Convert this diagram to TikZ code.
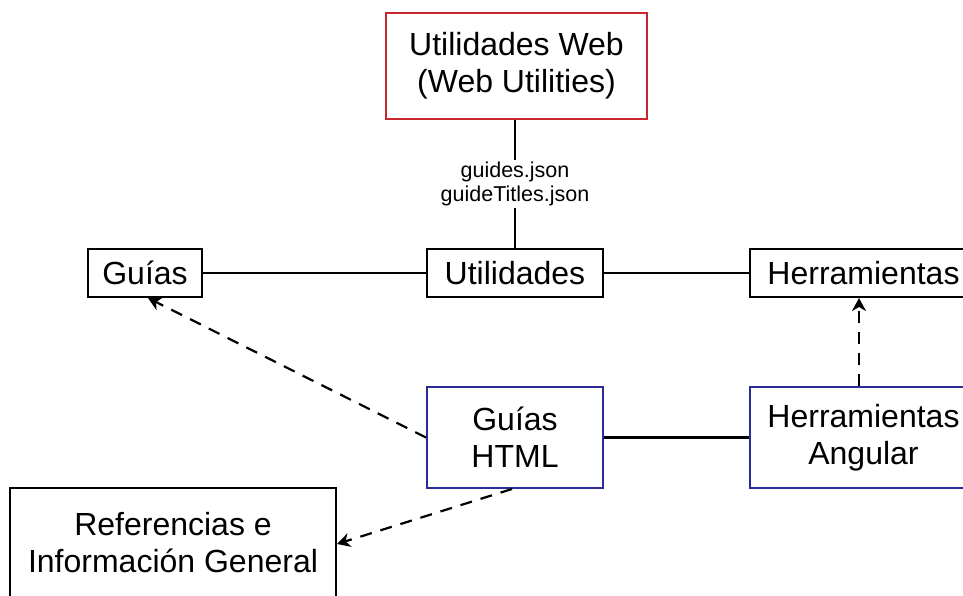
\documentclass[tikz,border=0pt]{standalone}
\usepackage{fontspec}
\setmainfont{Liberation Sans}
\usetikzlibrary{arrows.meta}
\definecolor{webred}{RGB}{200,38,46}
\definecolor{htmlblue}{RGB}{44,44,150}
\begin{document}
\begin{tikzpicture}[x=1pt,y=-1pt,
  box/.style={draw, line width=2pt, rectangle, inner sep=0pt, align=center,
              font=\fontsize{32}{37}\selectfont},
  link/.style={line width=2.2pt},
  dep/.style={line width=2.2pt, dash pattern=on 12pt off 9pt,
              -{Stealth[length=13pt,width=14pt,inset=4pt]}},
  lbl/.style={fill=white, inner sep=2pt, align=center,
              font=\fontsize{21.5}{24}\selectfont}]
\useasboundingbox (0,0) rectangle (963,596);
\clip (0,0) rectangle (963,596);

\node[box, draw=webred, minimum width=261pt, minimum height=106pt] (web) at (516.5,66) {Utilidades Web\\(Web Utilities)};
\node[box, minimum width=114pt, minimum height=48pt] (gu) at (145,273) {Guías};
\node[box, minimum width=176pt, minimum height=48pt] (ut) at (515,273) {Utilidades};
\node[box, minimum width=227pt, minimum height=48pt] (he) at (863.5,273) {Herramientas};
\node[box, draw=htmlblue, minimum width=176pt, minimum height=101pt] (gh) at (515,437.5) {Guías\\HTML};
\node[box, draw=htmlblue, minimum width=227pt, minimum height=101pt] (ha) at (863.5,437.5) {Herramientas\\Angular};
\node[box, minimum width=326pt, minimum height=110pt] (ref) at (173,543) {Referencias e\\Información General};

\draw[link] (web.south -| ut.north) -- node[lbl] {guides.json\\guideTitles.json} (ut.north);
\draw[link] (gu.east) -- (ut.west);
\draw[link] (ut.east) -- (he.west);
\draw[link] (gh.east) -- (ha.west);

\draw[dep] (gh.west) -- ([xshift=3pt]gu.south);
\draw[dep] ([xshift=-4.5pt]ha.north) -- ([xshift=-4.5pt]he.south);
\draw[dep] ([xshift=-3pt]gh.south) -- ([yshift=-1pt]ref.east);
\end{tikzpicture}
\end{document}
